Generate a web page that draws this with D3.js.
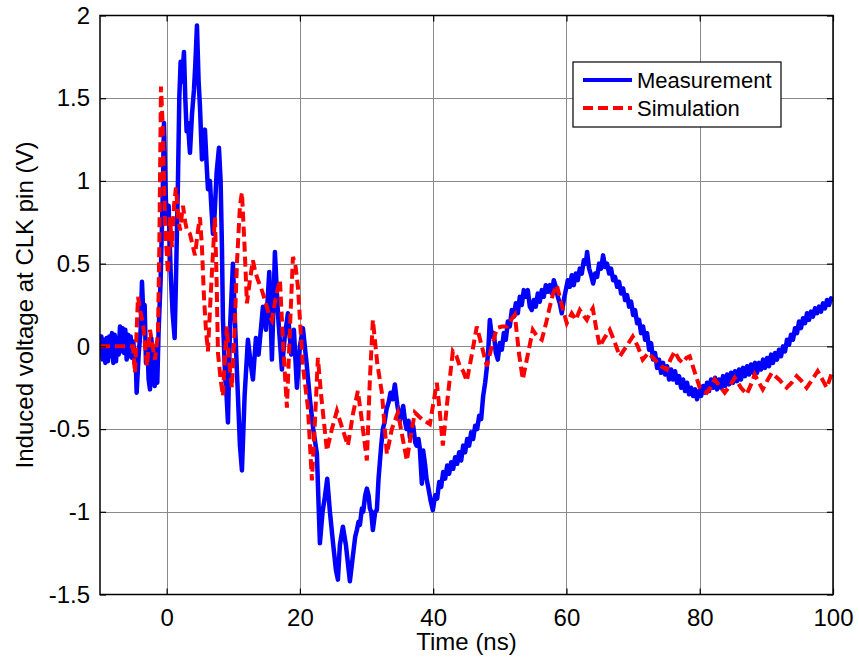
<!DOCTYPE html>
<html>
<head>
<meta charset="utf-8">
<script src="https://cdn.jsdelivr.net/npm/d3@7"></script>
<style>
  html, body { margin: 0; padding: 0; background: #fff; }
  svg { display: block; font-family: Arial, "Liberation Sans", Helvetica, sans-serif; }
</style>
</head>
<body>
<svg id="chart" width="859" height="663"></svg>
<script>
// Induced voltage at the CLK pin: measured trace vs. simulated trace
const xTicks = [0, 20, 40, 60, 80, 100];
const yTicks = [-1.5, -1, -0.5, 0, 0.5, 1, 1.5, 2];
const yTickLabels = ["-1.5", "-1", "-0.5", "0", "0.5", "1", "1.5", "2"];
const seriesNames = ["Measurement", "Simulation"];

// Measurement: [time ns, volts]
const measurement = [
  [-10,-0.05],[-9.8,0.06],[-9.6,-0.08],[-9.4,0.04],[-9.2,-0.1],[-9.0,0.05],[-8.8,-0.09],[-8.6,0.06],
  [-8.4,-0.06],[-8.2,0.08],[-8.0,-0.1],[-7.8,0.07],[-7.6,-0.09],[-7.4,0.05],[-7.2,-0.05],[-7.0,0.12],
  [-6.8,-0.03],[-6.6,0.11],[-6.4,-0.04],[-6.2,0.1],[-6.0,-0.08],[-5.8,0.07],[-5.6,-0.06],[-5.4,0.06],
  [-5.2,-0.07],[-5.0,0.03],[-4.8,-0.1],[-4.6,-0.14],[-4.5,-0.28],[-4.2,-0.05],[-3.9,0.1],[-3.7,0.39],
  [-3.5,0.2],[-3.3,0.25],[-3.1,-0.1],[-2.9,0.02],[-2.7,-0.2],[-2.5,-0.26],[-2.3,0.05],[-2.0,-0.1],
  [-1.8,-0.24],[-1.6,0.0],[-1.4,-0.22],[-1.2,0.1],[-0.9,0.4],[-0.6,0.9],[-0.4,1.35],[-0.2,1.0],
  [0.0,0.75],[0.3,0.85],[0.6,0.45],[0.9,0.2],[1.2,0.05],[1.4,0.4],[1.7,1.0],[1.9,1.5],
  [2.1,1.72],[2.3,1.6],[2.6,1.78],[2.8,1.5],[3.0,1.3],[3.2,1.35],[3.5,1.17],[3.8,1.4],
  [4.1,1.55],[4.3,1.7],[4.55,1.94],[4.8,1.6],[5.0,1.45],[5.3,1.13],[5.5,1.25],[5.75,1.31],
  [6.0,1.1],[6.2,0.95],[6.5,1.0],[6.7,0.85],[6.95,0.68],[7.2,0.8],[7.5,1.05],[7.85,1.2],
  [8.1,1.0],[8.3,0.6],[8.45,0.16],[8.8,-0.2],[9.0,-0.3],[9.2,-0.46],[9.5,0.1],[9.95,0.5],
  [10.3,0.1],[10.7,-0.3],[11.0,-0.6],[11.3,-0.75],[11.7,-0.3],[12.2,0.04],[12.6,-0.1],[12.95,-0.2],
  [13.4,0.05],[13.8,-0.05],[14.45,0.24],[14.9,0.1],[15.4,0.45],[15.8,-0.08],[16.25,0.57],[16.7,0.2],
  [17.3,-0.14],[17.7,0.05],[18.2,0.2],[18.7,-0.05],[19.1,0.1],[19.55,-0.25],[20.0,0.0],[20.45,0.11],
  [21.0,-0.1],[21.5,-0.32],[22.0,-0.5],[22.55,-0.65],[23.0,-1.19],[23.4,-1.0],[23.75,-0.91],[24.1,-0.8],
  [24.5,-1.0],[25.0,-1.2],[25.4,-1.35],[25.7,-1.41],[26.0,-1.2],[26.45,-1.09],[26.9,-1.2],[27.5,-1.42],
  [28.0,-1.25],[28.3,-1.15],[28.55,-1.11],[28.8,-1.06],[29.0,-1.08],[29.3,-0.98],[29.5,-1.0],[29.8,-0.9],
  [30.05,-0.86],[30.3,-0.9],[30.5,-0.98],[30.7,-1.0],[30.95,-1.11],[31.3,-1.0],[31.55,-0.99],[31.8,-0.8],
  [32.0,-0.7],[32.2,-0.6],[32.45,-0.5],[32.7,-0.46],[33.0,-0.38],[33.3,-0.34],[33.6,-0.28],[33.9,-0.32],
  [34.25,-0.23],[34.6,-0.35],[35.0,-0.45],[35.3,-0.4],[35.5,-0.36],[35.8,-0.46],[36.0,-0.5],[36.3,-0.45],
  [36.5,-0.55],[36.8,-0.5],[37.0,-0.48],[37.3,-0.58],[37.5,-0.6],[37.8,-0.56],[38.0,-0.62],[38.3,-0.83],
  [38.5,-0.63],[38.8,-0.72],[39.0,-0.8],[39.3,-0.86],[39.6,-0.93],[39.95,-0.99],[40.3,-0.9],[40.6,-0.92],
  [40.9,-0.82],[41.2,-0.85],[41.5,-0.76],[41.8,-0.8],[42.1,-0.72],[42.4,-0.77],[42.7,-0.7],[43.0,-0.74],
  [43.3,-0.67],[43.6,-0.71],[43.9,-0.64],[44.2,-0.69],[44.5,-0.6],[44.8,-0.64],[45.1,-0.56],[45.4,-0.6],
  [45.7,-0.52],[46.0,-0.56],[46.3,-0.48],[46.6,-0.5],[46.9,-0.42],[47.2,-0.44],[47.5,-0.3],[47.8,-0.22],
  [48.05,-0.13],[48.3,0.0],[48.5,0.16],[48.8,0.06],[49.1,0.08],[49.4,-0.04],[49.7,-0.08],[50.0,0.02],
  [50.3,-0.02],[50.6,0.08],[50.9,0.04],[51.2,0.15],[51.5,0.12],[51.8,0.22],[52.1,0.18],[52.4,0.26],
  [52.7,0.2],[53.0,0.3],[53.3,0.25],[53.6,0.34],[53.9,0.3],[54.2,0.34],[54.5,0.24],[54.8,0.22],
  [55.1,0.28],[55.4,0.24],[55.7,0.32],[56.0,0.27],[56.3,0.34],[56.6,0.3],[56.9,0.37],[57.2,0.33],
  [57.5,0.37],[57.8,0.32],[58.1,0.4],[58.4,0.36],[58.7,0.3],[59.0,0.26],[59.3,0.2],[59.6,0.28],
  [59.9,0.34],[60.2,0.4],[60.5,0.36],[60.8,0.43],[61.1,0.37],[61.4,0.44],[61.7,0.4],[62.0,0.47],
  [62.3,0.44],[62.6,0.52],[62.9,0.5],[63.1,0.57],[63.4,0.47],[63.7,0.43],[64.0,0.38],[64.3,0.44],
  [64.6,0.42],[64.9,0.5],[65.2,0.47],[65.5,0.55],[65.8,0.48],[66.1,0.5],[66.4,0.44],[66.7,0.47],
  [67.0,0.4],[67.3,0.42],[67.6,0.36],[67.9,0.39],[68.2,0.32],[68.5,0.35],[68.8,0.28],[69.1,0.31],
  [69.4,0.24],[69.7,0.27],[70.0,0.19],[70.3,0.22],[70.6,0.14],[70.9,0.16],[71.2,0.08],[71.5,0.12],
  [71.8,0.04],[72.1,0.08],[72.4,-0.02],[72.7,0.02],[73.0,-0.08],[73.3,-0.04],[73.6,-0.13],[73.9,-0.08],
  [74.2,-0.16],[74.5,-0.1],[74.8,-0.17],[75.1,-0.12],[75.4,-0.2],[75.7,-0.14],[76.0,-0.2],[76.3,-0.15],
  [76.6,-0.22],[76.9,-0.18],[77.2,-0.25],[77.5,-0.2],[77.8,-0.27],[78.1,-0.22],[78.4,-0.29],[78.7,-0.25],
  [79.0,-0.3],[79.3,-0.26],[79.6,-0.32],[79.9,-0.27],[80.2,-0.3],[80.5,-0.24],[80.8,-0.28],[81.1,-0.22],
  [81.4,-0.27],[81.7,-0.2],[82.0,-0.25],[82.3,-0.19],[82.6,-0.26],[82.9,-0.2],[83.2,-0.25],[83.5,-0.18],
  [83.8,-0.24],[84.1,-0.17],[84.4,-0.23],[84.7,-0.16],[85.0,-0.22],[85.3,-0.15],[85.6,-0.21],[85.9,-0.14],
  [86.2,-0.2],[86.5,-0.13],[86.8,-0.18],[87.1,-0.12],[87.4,-0.17],[87.7,-0.11],[88.0,-0.16],[88.3,-0.1],
  [88.6,-0.16],[88.9,-0.1],[89.2,-0.14],[89.5,-0.08],[89.8,-0.13],[90.1,-0.07],[90.4,-0.12],[90.7,-0.05],
  [91.0,-0.1],[91.3,-0.04],[91.6,-0.08],[91.9,-0.02],[92.2,-0.06],[92.5,0.0],[92.8,-0.03],[93.1,0.04],
  [93.4,0.01],[93.7,0.07],[94.0,0.04],[94.3,0.11],[94.6,0.08],[94.9,0.15],[95.2,0.11],[95.5,0.17],
  [95.8,0.14],[96.1,0.2],[96.4,0.16],[96.7,0.21],[97.0,0.18],[97.3,0.23],[97.6,0.2],[97.9,0.24],
  [98.2,0.21],[98.5,0.26],[98.8,0.23],[99.1,0.28],[99.4,0.25],[99.7,0.29],[100,0.27]
];

// Simulation: [time ns, volts]
const simulation = [
  [-10,0],[-7,0],[-5.05,0.0],[-4.75,-0.16],[-4.3,0.3],[-3.9,0.2],[-3.55,0.14],[-2.95,-0.12],
  [-2.5,0.1],[-2.1,0.0],[-1.75,-0.08],[-1.3,0.08],[-1.1,0.6],[-0.85,1.57],[-0.6,1.35],[-0.4,1.0],
  [-0.2,0.7],[0.2,0.44],[0.5,0.78],[0.8,0.6],[1.1,0.85],[1.4,0.96],[1.7,0.8],[2.0,0.7],
  [2.45,0.85],[2.8,0.75],[3.05,0.7],[3.5,0.68],[4.25,0.55],[4.7,0.7],[5.0,0.78],[5.3,0.6],
  [5.6,0.3],[5.9,0.1],[6.2,-0.03],[6.6,0.3],[7.0,0.6],[7.25,0.78],[7.5,0.4],[7.7,-0.04],
  [8.1,-0.2],[8.45,-0.3],[8.75,-0.05],[9.05,0.12],[9.4,-0.1],[9.8,-0.25],[10.2,0.1],[10.55,0.5],
  [11.0,0.85],[11.3,0.93],[11.7,0.6],[12.05,0.26],[12.5,0.4],[12.95,0.52],[13.3,0.45],[13.7,0.4],
  [14.2,0.35],[14.75,0.28],[15.3,0.2],[15.8,0.16],[16.4,0.3],[17.0,0.4],[17.5,0.0],[18.05,-0.37],
  [18.5,0.1],[18.95,0.54],[19.3,0.5],[19.7,0.36],[20.1,0.1],[20.45,-0.12],[21.2,-0.37],[21.8,-0.81],
  [22.2,-0.5],[22.7,-0.07],[23.2,-0.3],[24.05,-0.63],[24.8,-0.5],[25.55,-0.39],[26.4,-0.5],[27.2,-0.6],
  [28.0,-0.4],[28.7,-0.27],[29.3,-0.45],[30.05,-0.69],[30.5,-0.2],[30.95,0.16],[31.6,-0.1],[32.3,-0.28],
  [33.05,-0.65],[33.8,-0.5],[34.7,-0.4],[35.4,-0.55],[36.05,-0.69],[36.6,-0.55],[37.25,-0.4],[38.3,-0.44],
  [39.5,-0.47],[40.0,-0.35],[40.55,-0.22],[41.0,-0.4],[41.45,-0.6],[42.2,-0.3],[42.95,-0.03],[43.5,-0.06],
  [44.0,-0.12],[44.5,-0.15],[45.05,-0.21],[45.8,-0.05],[46.55,0.12],[47.3,0.0],[48.05,-0.12],[48.8,0.0],
  [49.55,0.11],[50.3,0.12],[51.05,0.12],[51.7,0.16],[52.25,0.19],[52.9,-0.05],[53.45,-0.2],[54.2,-0.05],
  [54.95,0.1],[55.6,0.06],[56.3,0.04],[57.0,0.15],[57.5,0.24],[58.0,0.32],[58.55,0.37],[59.3,0.25],
  [60.05,0.14],[60.8,0.2],[61.4,0.16],[62.0,0.22],[62.5,0.19],[63.05,0.16],[63.5,0.2],[63.95,0.23],
  [64.5,0.1],[65.0,0.0],[65.7,0.05],[66.5,0.1],[67.2,0.03],[68.0,-0.06],[69.0,0.0],[69.95,0.06],
  [70.7,0.0],[71.45,-0.08],[72.3,-0.04],[73.25,-0.08],[74.2,-0.12],[75.05,-0.14],[75.6,-0.08],[76.25,-0.03],
  [76.9,-0.08],[77.45,-0.1],[78.0,-0.07],[78.5,-0.06],[79.2,-0.15],[80.0,-0.25],[80.5,-0.27],[81.05,-0.28],
  [81.6,-0.25],[82.25,-0.2],[83.0,-0.24],[83.75,-0.28],[84.5,-0.24],[85.25,-0.19],[86.2,-0.25],[87.05,-0.29],
  [87.7,-0.23],[88.25,-0.17],[88.9,-0.22],[89.45,-0.26],[90.1,-0.21],[90.8,-0.16],[91.9,-0.2],[93.05,-0.25],
  [93.8,-0.22],[94.55,-0.18],[95.3,-0.21],[96.05,-0.25],[96.9,-0.2],[97.7,-0.15],[98.4,-0.2],[99.05,-0.25],
  [99.5,-0.2],[100,-0.14]
];

const svg = d3.select("#chart");
const plotL = 100, plotR = 833, plotT = 15.5, plotB = 594.5;

const x = d3.scaleLinear().domain([-10, 100]).range([plotL, plotR]);
const y = d3.scaleLinear().domain([-1.5, 2]).range([plotB, plotT]);

// grid
const grid = svg.append("g").attr("stroke", "#8a8a8a").attr("stroke-width", 1);
grid.selectAll("line.vx").data(xTicks).join("line")
  .attr("x1", d => Math.round(x(d)) + 0.5).attr("x2", d => Math.round(x(d)) + 0.5)
  .attr("y1", plotT).attr("y2", plotB);
grid.selectAll("line.hy").data(yTicks.slice(1, -1)).join("line")
  .attr("y1", d => Math.round(y(d)) + 0.5).attr("y2", d => Math.round(y(d)) + 0.5)
  .attr("x1", plotL).attr("x2", plotR);

// traces, clipped to the axes box
svg.append("clipPath").attr("id", "plot-clip").append("rect")
  .attr("x", plotL).attr("y", plotT).attr("width", plotR - plotL).attr("height", plotB - plotT);

const line = d3.line().x(d => x(d[0])).y(d => y(d[1]));
const plot = svg.append("g").attr("clip-path", "url(#plot-clip)");
plot.append("path").datum(measurement)
  .attr("fill", "none").attr("stroke", "#0000ff").attr("stroke-width", 4.5)
  .attr("stroke-linejoin", "round").attr("d", line);
plot.append("path").datum(simulation)
  .attr("fill", "none").attr("stroke", "#ff0000").attr("stroke-width", 4)
  .attr("stroke-dasharray", "10,5").attr("d", line);

// axes with inward ticks on all four sides
const tickLen = 6;
const axB = d3.axisBottom(x).tickValues(xTicks).tickSizeInner(-tickLen).tickSizeOuter(0).tickPadding(14);
const axT = d3.axisTop(x).tickValues(xTicks).tickSizeInner(-tickLen).tickSizeOuter(0).tickFormat("");
const axL = d3.axisLeft(y).tickValues(yTicks).tickSizeInner(-tickLen).tickSizeOuter(0).tickPadding(10)
  .tickFormat((d, i) => yTickLabels[i]);
const axR = d3.axisRight(y).tickValues(yTicks).tickSizeInner(-tickLen).tickSizeOuter(0).tickFormat("");

function styleAxis(g) {
  g.select(".domain").remove();
  g.selectAll("line").attr("stroke", "#000").attr("stroke-width", 1.2);
  g.selectAll("text").attr("fill", "#000").style("font-size", "24px")
    .style("font-family", "Arial, 'Liberation Sans', sans-serif");
}
svg.append("g").attr("transform", `translate(0,${plotB})`).call(axB).call(styleAxis);
svg.append("g").attr("transform", `translate(0,${plotT})`).call(axT).call(styleAxis);
svg.append("g").attr("transform", `translate(${plotL},0)`).call(axL).call(styleAxis);
svg.append("g").attr("transform", `translate(${plotR},0)`).call(axR).call(styleAxis);

// axes box
svg.append("rect").attr("x", plotL).attr("y", plotT).attr("width", plotR - plotL).attr("height", plotB - plotT)
  .attr("fill", "none").attr("stroke", "#000").attr("stroke-width", 1.5);

// axis titles
svg.append("text").attr("x", (plotL + plotR) / 2).attr("y", 650).attr("text-anchor", "middle")
  .style("font-size", "24px").text("Time (ns)");
svg.append("text").attr("transform", `translate(33,${(plotT + plotB) / 2}) rotate(-90)`)
  .attr("text-anchor", "middle").style("font-size", "24px").text("Induced voltage at CLK pin (V)");

// legend
const lg = svg.append("g").attr("transform", "translate(573,62)");
lg.append("rect").attr("width", 208).attr("height", 65).attr("fill", "#fff")
  .attr("stroke", "#000").attr("stroke-width", 1.2);
const rows = [
  { name: seriesNames[0], color: "#0000ff", dash: null, w: 4 },
  { name: seriesNames[1], color: "#ff0000", dash: "10,5", w: 4 }
];
rows.forEach((r, i) => {
  const cy = 18 + i * 28;
  lg.append("line").attr("x1", 10).attr("x2", 59).attr("y1", cy).attr("y2", cy)
    .attr("stroke", r.color).attr("stroke-width", r.w).attr("stroke-dasharray", r.dash);
  lg.append("text").attr("x", 64).attr("y", cy + 8).style("font-size", "22px").text(r.name);
});
</script>
</body>
</html>
